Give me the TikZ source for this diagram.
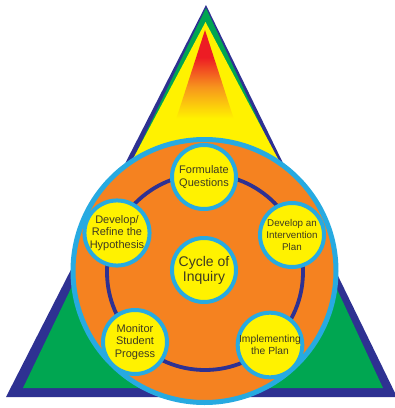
\documentclass[tikz,border=0pt]{standalone}
\usepackage{fontspec}
\setmainfont{Liberation Sans}
\definecolor{navy}{RGB}{46,49,146}
\definecolor{grn}{RGB}{0,166,81}
\definecolor{yel}{RGB}{255,242,0}
\definecolor{redc}{RGB}{237,28,36}
\definecolor{orgc}{RGB}{247,148,29}
\definecolor{circorange}{RGB}{245,130,32}
\definecolor{cyanc}{RGB}{39,170,225}
\definecolor{txt}{RGB}{62,58,34}
\pgfdeclareverticalshading{apexshade}{100bp}{color(0bp)=(yel); color(33bp)=(yel); color(48bp)=(orgc); color(62bp)=(redc); color(100bp)=(redc)}
\begin{document}
\begin{tikzpicture}[x=1pt,y=-1pt,
  stage/.style={circle,draw=cyanc,line width=4pt,fill=yel,minimum size=64pt,
    inner sep=0pt,align=center,text=txt,font=\fontsize{11}{12.7}\selectfont},
  bigdisc/.style={circle,draw=cyanc,fill=circorange,line width=5pt,minimum size=263pt,inner sep=0pt},
  ringc/.style={circle,draw=navy,line width=3.8pt,minimum size=196pt,inner sep=0pt}]
\useasboundingbox (0,0) rectangle (395,408);
% triangles
\fill[navy] (206,5) -- (6,397) -- (397,397) -- cycle;
\fill[grn] (206,8) -- (23,388) -- (383,388) -- cycle;
\fill[yel] (205.5,22) -- (116.5,190) -- (294.5,190) -- cycle;
\shade[shading=apexshade] (205,30) -- (171,135) -- (239,135) -- cycle;
% big disc and ring
\node[bigdisc] (big) at (204.5,271) {};
\node[ringc] (ring) at (205,272) {};
% stages
\node[stage] (fq) at (204,177) {Formulate\\Questions};
\node[stage,font=\fontsize{9.8}{11.7}\selectfont] (dip) at (292,235) {Develop an\\Intervention\\Plan};
\node[stage,font=\fontsize{10.3}{12}\selectfont] (ip) at (270,345) {Implementing\\the Plan};
\node[stage] (msp) at (135,342) {Monitor\\Student\\Progess};
\node[stage] (drh) at (117,233) {Develop/\\Refine the\\Hypothesis};
\node[stage,font=\fontsize{14}{15}\selectfont] (coi) at (204,270) {Cycle of\\Inquiry};
\end{tikzpicture}
\end{document}
